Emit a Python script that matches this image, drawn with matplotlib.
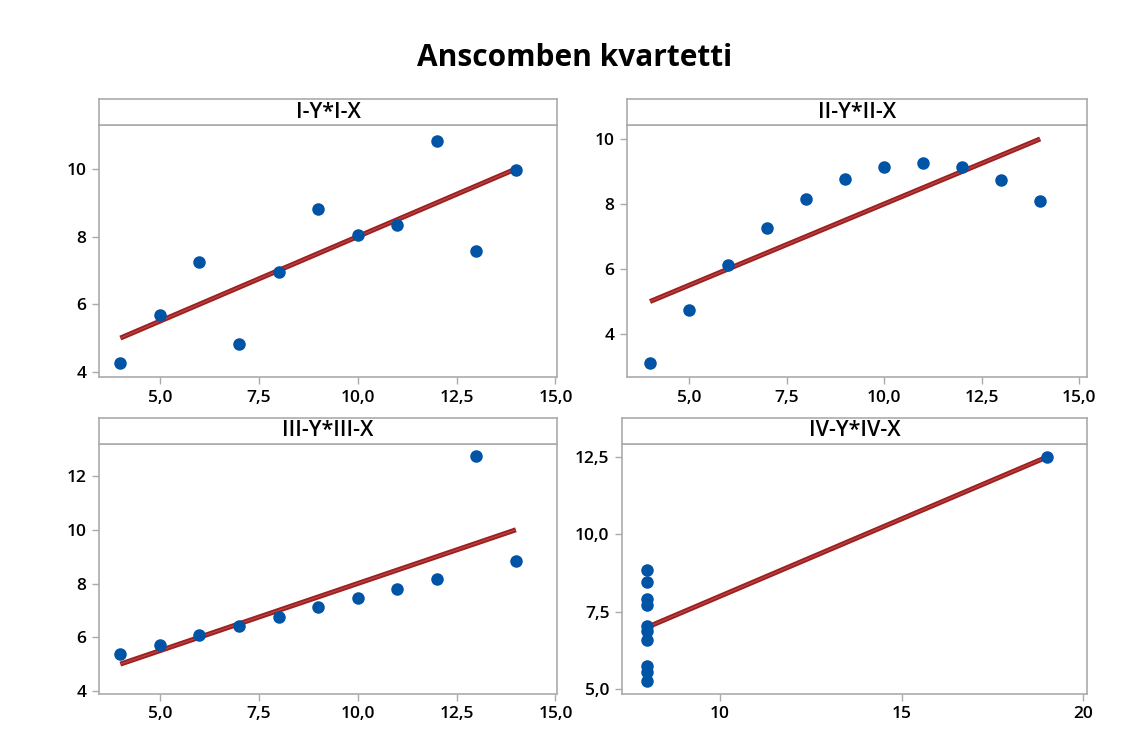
from matplotlib import pyplot as plt
import numpy as np

x123 = [10, 8, 13, 9, 11, 14, 6, 4, 12, 7, 5]
y1 = [8.04, 6.95, 7.58, 8.81, 8.33, 9.96, 7.24, 4.26, 10.84, 4.82, 5.68]
y2 = [9.14, 8.14, 8.74, 8.77, 9.26, 8.10, 6.13, 3.10, 9.13, 7.26, 4.74]
y3 = [7.46, 6.77, 12.74, 7.11, 7.81, 8.84, 6.08, 5.39, 8.15, 6.42, 5.73]
x4 = [8, 8, 8, 8, 8, 8, 8, 19, 8, 8, 8]
y4 = [6.58, 5.76, 7.71, 8.84, 8.47, 7.04, 5.25, 12.50, 5.56, 7.91, 6.89]

titles = ['I-Y*I-X', 'II-Y*II-X', 'III-Y*III-X', 'IV-Y*IV-X']
xticks_a = [5.0, 7.5, 10.0, 12.5, 15.0]
xticks_b = [10, 15, 20]
yticks = [[4, 6, 8, 10], [4, 6, 8, 10], [4, 6, 8, 10, 12], [5.0, 7.5, 10.0, 12.5]]

W, H = 1138, 753
dot_color = '#0054A6'
line_color = '#9E1F1F'
line_hi = '#B84545'
spine_color = '#ABABAB'
plt.rcParams['font.family'] = ['Open Sans', 'DejaVu Sans']


def comma(v, decimals):
    return f'{v:.{decimals}f}'.replace('.', ',')


def px_axes(fig, x0, y0, x1, y1):
    return fig.add_axes([x0 / W, 1 - y1 / H, (x1 - x0) / W, (y1 - y0) / H])


def style(ax):
    for s in ax.spines.values():
        s.set_color(spine_color)
        s.set_linewidth(1.2)


fig = plt.figure(figsize=(W / 100, H / 100), dpi=100)
fig.text(575 / W, 1 - 58 / H, 'Anscomben kvartetti', ha='center', va='center',
         fontsize=21.5, fontweight='bold')

panels = [
    (x123, y1, (99, 125, 557, 377), (3.46, 15.04), (3.85, 11.3), xticks_a, 1, 0),
    (x123, y2, (627, 125, 1087, 377), (3.41, 15.2), (2.68, 10.43), xticks_a, 1, 0),
    (x123, y3, (99, 444, 557, 694), (3.46, 15.04), (3.89, 13.19), xticks_a, 1, 0),
    (x4, y4, (622, 444, 1087, 694), (7.3, 20.1), (4.84, 12.92), xticks_b, 0, 1),
]

for i, (xs, ys, box, xl, yl, xt, xdec, ydec) in enumerate(panels):
    x0, y0, x1, y1b = box
    ax = px_axes(fig, x0, y0, x1, y1b)
    xs = np.array(xs, dtype=float)
    ys = np.array(ys, dtype=float)
    b, a = np.polyfit(xs, ys, 1)
    xf = np.array([xs.min(), xs.max()])
    ax.plot(xf, a + b * xf, color=line_color, lw=3.6, solid_capstyle='butt', zorder=2)
    ax.plot(xf, a + b * xf, color=line_hi, lw=0.9, solid_capstyle='butt', zorder=2)
    ax.plot(xs, ys, 'o', color=dot_color, ms=8, zorder=3)
    ax.set_xlim(*xl)
    ax.set_ylim(*yl)
    ax.set_xticks(xt)
    ax.set_xticklabels([comma(v, xdec) for v in xt])
    ax.set_yticks(yticks[i])
    ax.set_yticklabels([comma(v, ydec) for v in yticks[i]])
    ax.tick_params(direction='out', length=5, width=1, color=spine_color,
                   labelsize=12.5, pad=4)
    for lab in ax.get_xticklabels() + ax.get_yticklabels():
        lab.set_fontweight('semibold')
    style(ax)

    strip = px_axes(fig, x0, y0 - 26, x1, y0)
    strip.set_xticks([])
    strip.set_yticks([])
    style(strip)
    strip.text(0.5, 0.5, titles[i], ha='center', va='center', fontsize=15.5,
               fontweight='semibold', transform=strip.transAxes)

plt.savefig('out.png', dpi=100)
